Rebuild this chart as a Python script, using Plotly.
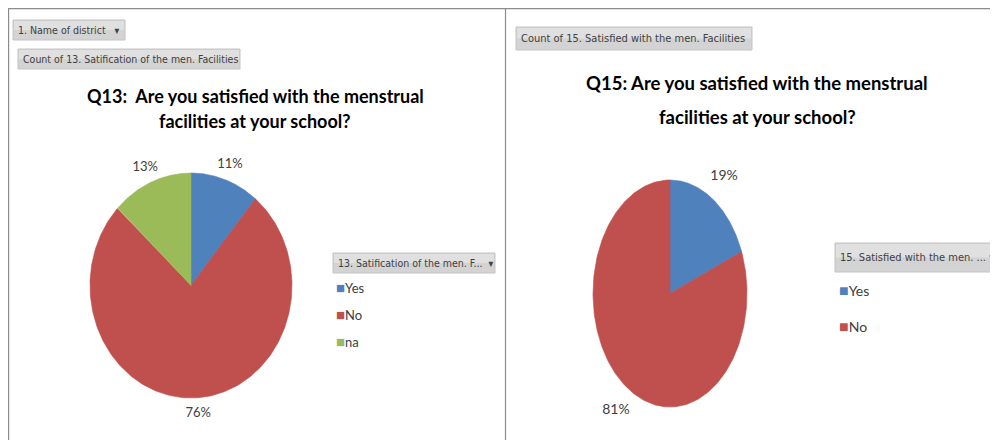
import numpy as np
import plotly.graph_objects as go

# ---------------- data ----------------
q13_labels = ["Yes", "No", "na"]
q13_values = [11, 76, 13]          # percent of respondents
q15_labels = ["Yes", "No"]
q15_values = [19, 81]
slice_colors = {"Yes": "#4F81BD", "No": "#C0504D", "na": "#9BBB59"}

q13_title = ["Q13:  Are you satisfied with the menstrual", "facilities at your school?"]
q15_title = ["Q15: Are you satisfied with the menstrual", "facilities at your school?"]
q13_field = "Count of 13. Satification of the men. Facilities"
q15_field = "Count of 15. Satisfied with the men. Facilities"
q13_legend_title = "13. Satification of the men. F...  \u25BE"
q15_legend_title = "15. Satisfied with the men. ... \u25BE"
page_filter = "1. Name of district   \u25BE"

# ---------------- helpers ----------------
# the page body has an 8px margin, so the figure starts at (8, 8) of the window
OFF = 8
W, H = 998 - OFF, 440 - OFF
def px(x):
    return (x - OFF) / W
def py(y):
    return 1 - (y - OFF) / H

NARROW = "Liberation Sans Narrow, Arial Narrow, DejaVu Sans Condensed, Roboto Condensed, Roboto, sans-serif"
CAL = "Lato, Carlito, Calibri, Roboto, sans-serif"

fig = go.Figure()
annotations = []

def pie_axes(cx, cy, rx, ry, ext=1.45):
    """Axis domain/range so that the unit circle becomes an rx-by-ry ellipse centred at (cx, cy)."""
    left, right = max(cx - ext * rx, OFF), min(cx + ext * rx, 998)
    top, bottom = max(cy - ext * ry, OFF), min(cy + ext * ry, 440)
    xd = [px(left), px(right)]
    yd = [py(bottom), py(top)]
    xr = [(left - cx) / rx, (right - cx) / rx]
    yr = [-(bottom - cy) / ry, (cy - top) / ry]
    return xd, xr, yd, yr

def add_pie(labels, values, xa, ya, label_r, label_size):
    total = float(sum(values))
    start = 0.0
    for lab, v in zip(labels, values):
        f0, f1 = start / total, (start + v) / total
        th = np.linspace(f0, f1, 240) * 2 * np.pi
        xs = np.concatenate([[0], np.sin(th), [0]])
        ys = np.concatenate([[0], np.cos(th), [0]])
        pct = f"{round(v / total * 100)}%"
        fig.add_trace(go.Scatter(
            x=xs, y=ys, mode="lines", fill="toself",
            fillcolor=slice_colors[lab],
            line=dict(color=slice_colors[lab], width=0.6),
            xaxis=xa, yaxis=ya, showlegend=False, cliponaxis=False,
            hoveron="fills", hoverinfo="text", text=f"{lab}: {pct}",
        ))
        mid = (f0 + f1) / 2 * 2 * np.pi
        fig.add_trace(go.Scatter(
            x=[float(np.sin(mid) * label_r)], y=[float(np.cos(mid) * label_r)],
            mode="text", text=[pct], textposition="middle center",
            textfont=dict(family=CAL, size=label_size, color="#404040"),
            xaxis=xa, yaxis=ya, showlegend=False, cliponaxis=False, hoverinfo="skip",
        ))
        start += v

add_pie(q13_labels, q13_values, "x", "y", 1.14, 13)
add_pie(q15_labels, q15_values, "x2", "y2", 1.25, 14)

# legend entries (square glyph coloured like the slice)
def add_legend(labels, legend_id, xa, ya, sq_size):
    for lab in labels:
        fig.add_trace(go.Scatter(
            x=[None], y=[None], mode="markers",
            marker=dict(size=0.1, color="rgba(0,0,0,0)", opacity=0, line=dict(width=0)),
            name=(f'<span style="color:{slice_colors[lab]};font-size:{sq_size}px">\u25A0</span>'
                  f'{lab}'),
            legend=legend_id, legendgroup=legend_id + lab,
            xaxis=xa, yaxis=ya, hoverinfo="skip", cliponaxis=False,
        ))

add_legend(q13_labels, "legend", "x", "y", 15)
add_legend(q15_labels, "legend2", "x2", "y2", 16)

shapes = []

# panel frames
frame = dict(type="line", xref="paper", yref="paper", line=dict(color="#8C8C8C", width=1.2))
shapes.append(dict(frame, x0=0, x1=1, y0=py(8.6), y1=py(8.6)))
shapes.append(dict(frame, x0=px(8.6), x1=px(8.6), y0=py(8), y1=0))
shapes.append(dict(frame, x0=px(505.5), x1=px(505.5), y0=py(8), y1=0))

# pivot field buttons
def button(x0, x1, y0, y1, text, size=10.5):
    shapes.append(dict(type="rect", xref="paper", yref="paper",
                       x0=px(x0), x1=px(x1), y0=py(y1), y1=py(y0),
                       fillcolor="#D3D3D3", line=dict(color="#C4C4C4", width=1)))
    shapes.append(dict(type="rect", xref="paper", yref="paper",
                       x0=px(x0 + 1), x1=px(x1 - 1), y0=py((y0 + y1) / 2), y1=py(y0 + 1),
                       fillcolor="#E0E0E0", line=dict(width=0)))
    annotations.append(dict(xref="paper", yref="paper", x=px(x0 + 3), y=py((y0 + y1) / 2),
                            xanchor="left", yanchor="middle", showarrow=False, text=text,
                            font=dict(family=NARROW, size=size, color="#404040")))

button(13, 125, 20, 40, page_filter)
button(18, 240, 49, 69, q13_field)
button(516, 752, 27, 50, q15_field, 11)
button(333, 495, 253, 273, q13_legend_title)
button(835, 999, 243, 272, q15_legend_title, 11)

# titles
for i, line in enumerate(q13_title):
    annotations.append(dict(xref="paper", yref="paper", x=px(255), y=py(96 + 25 * i),
                            xanchor="center", yanchor="middle", showarrow=False, text=f"<b>{line}</b>",
                            font=dict(family=CAL, size=18, color="#000000")))
for i, line in enumerate(q15_title):
    annotations.append(dict(xref="paper", yref="paper", x=px(757), y=py(83 + 34 * i),
                            xanchor="center", yanchor="middle", showarrow=False, text=f"<b>{line}</b>",
                            font=dict(family=CAL, size=18.5, color="#000000")))

x1d, x1r, y1d, y1r = pie_axes(191, 285.5, 101, 112.5)
x2d, x2r, y2d, y2r = pie_axes(670, 293.5, 77, 113.5)
axis_off = dict(visible=False, fixedrange=True)
fig.update_layout(
    width=W, height=H,
    margin=dict(l=0, r=0, t=0, b=0),
    paper_bgcolor="white", plot_bgcolor="rgba(0,0,0,0)",
    xaxis=dict(axis_off, domain=x1d, range=x1r),
    yaxis=dict(axis_off, domain=y1d, range=y1r),
    xaxis2=dict(axis_off, domain=x2d, range=x2r, anchor="y2"),
    yaxis2=dict(axis_off, domain=y2d, range=y2r, anchor="x2"),
    legend=dict(x=px(296), y=py(273), xanchor="left", yanchor="top",
                traceorder="grouped", tracegroupgap=7, bgcolor="rgba(0,0,0,0)",
                font=dict(family=CAL, size=13, color="#404040")),
    legend2=dict(x=px(799), y=py(275), xanchor="left", yanchor="top",
                 traceorder="grouped", tracegroupgap=15, bgcolor="rgba(0,0,0,0)",
                 font=dict(family=CAL, size=14, color="#404040")),
    shapes=shapes, annotations=annotations,
    showlegend=True,
)

fig.write_html("out.html")
